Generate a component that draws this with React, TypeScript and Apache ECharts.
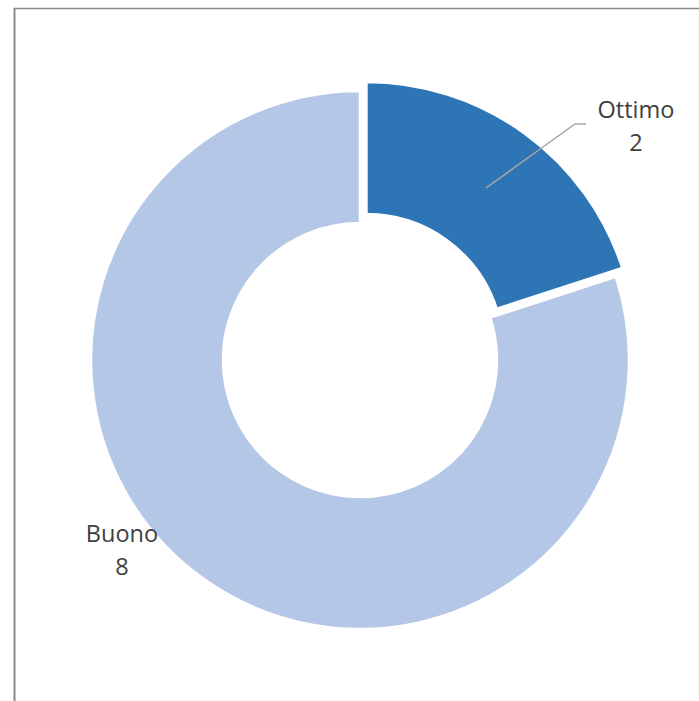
import React, { useEffect, useRef } from "react";
import * as echarts from "echarts";

const categories = ["Ottimo", "Buono"];
const values = [2, 8];
const colors = ["#2E75B6", "#B4C7E7"];

export default function App() {
  const ref = useRef<HTMLDivElement>(null);
  useEffect(() => {
    if (!ref.current) return;
    const chart = echarts.init(ref.current, null, { renderer: "svg" });
    const font = "'Open Sans', 'Noto Sans', sans-serif";
    const labelPos = [
      [636, 125],
      [122, 549],
    ];
    const labelTexts = categories.map((c, i) => ({
      type: "text",
      x: labelPos[i][0],
      y: labelPos[i][1],
      z: 100,
      silent: true,
      style: {
        text: `${c}\n${values[i]}`,
        align: "center",
        verticalAlign: "middle",
        fill: "#404040",
        fontFamily: font,
        fontSize: 23.5,
        lineHeight: 33,
      },
    }));
    chart.setOption({
      animation: false,
      backgroundColor: "#ffffff",
      graphic: [
        { type: "line", shape: { x1: 14.5, y1: 8, x2: 14.5, y2: 701 }, style: { stroke: "#8a8a8a", lineWidth: 2 } },
        { type: "line", shape: { x1: 14, y1: 8.5, x2: 699, y2: 8.5 }, style: { stroke: "#8a8a8a", lineWidth: 1.5 } },
        {
          type: "polyline",
          z: 100,
          shape: { points: [[486, 188], [575, 124], [586, 124]] },
          style: { stroke: "#a6a6a6", lineWidth: 1.5, fill: null },
        },
        ...labelTexts,
      ],
      series: [
        {
          type: "pie",
          center: [360, 360],
          radius: [137, 269],
          startAngle: 90,
          clockwise: true,
          selectedMode: "single",
          selectedOffset: 11,
          silent: true,
          z: 2,
          emphasis: { disabled: true },
          itemStyle: { borderColor: "#ffffff", borderWidth: 2.5 },
          label: { show: false },
          labelLine: { show: false },
          data: categories.map((c, i) => ({
            name: c,
            value: values[i],
            selected: i === 0,
            itemStyle: { color: colors[i] },
            select: { itemStyle: { color: colors[i] } },
          })),
        },
      ],
    });
    return () => chart.dispose();
  }, []);
  return (
    <div
      ref={ref}
      style={{ position: "fixed", left: 0, top: 0, width: 699, height: 701 }}
    />
  );
}
